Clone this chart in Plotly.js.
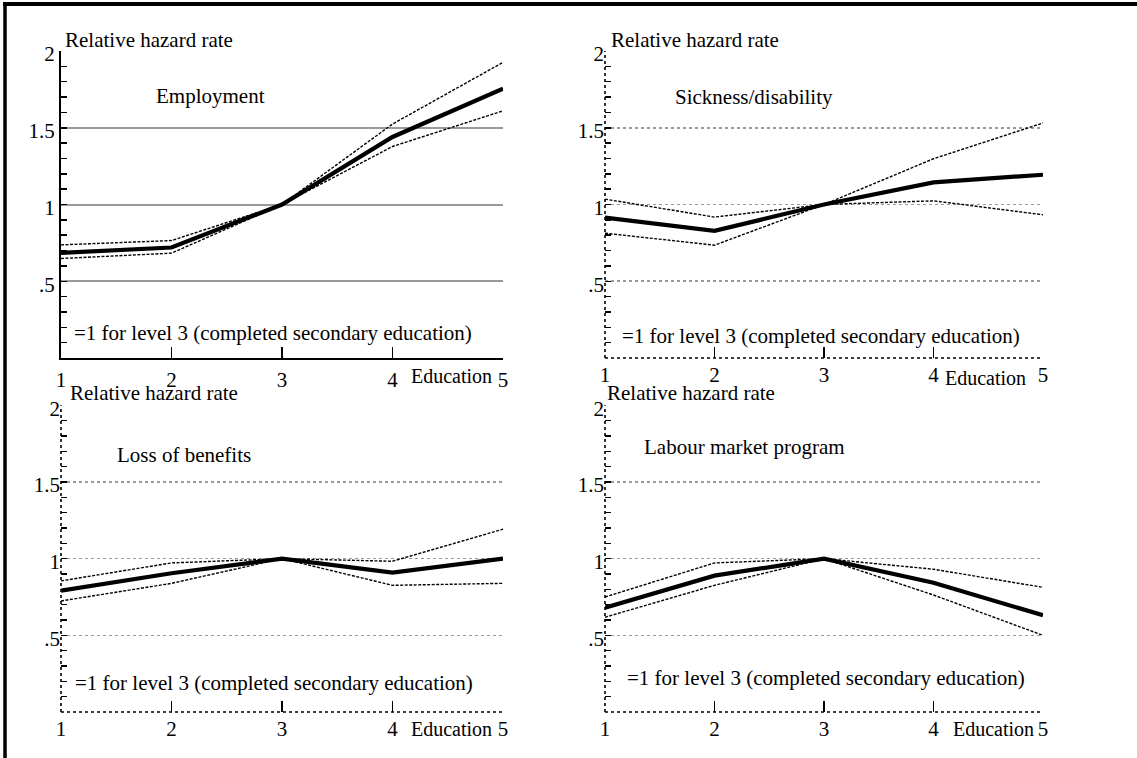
<!DOCTYPE html>
<html>
<head>
<meta charset="utf-8">
<script src="https://cdn.plot.ly/plotly-3.0.1.min.js"></script>
<style>html,body{margin:0;padding:0;background:#fff;}#chart{width:1137px;height:758px;}</style>
</head>
<body>
<div id="chart"></div>
<script>
// ---- data ----
const education = [1, 2, 3, 4, 5];
const educationTickText = ['1', '2', '3', '4', '5'];
const hazardTickVals = [0.5, 1, 1.5, 2];
const hazardTickText = ['.5', '1', '1.5', '2'];

const employmentEst   = [0.685, 0.720, 1.0, 1.440, 1.755];
const employmentUpper = [0.737, 0.765, 1.0, 1.524, 1.926];
const employmentLower = [0.648, 0.683, 1.0, 1.378, 1.610];

const sicknessEst   = [0.915, 0.828, 1.0, 1.144, 1.194];
const sicknessUpper = [1.035, 0.918, 1.0, 1.298, 1.531];
const sicknessLower = [0.813, 0.735, 1.0, 1.024, 0.933];

const lossEst   = [0.791, 0.905, 1.0, 0.909, 1.000];
const lossUpper = [0.855, 0.972, 1.0, 0.983, 1.192];
const lossLower = [0.724, 0.839, 1.0, 0.826, 0.839];

const programEst   = [0.680, 0.889, 1.0, 0.843, 0.631];
const programUpper = [0.750, 0.972, 1.0, 0.931, 0.813];
const programLower = [0.618, 0.826, 1.0, 0.763, 0.500];

const panelTitles = ['Employment', 'Sickness/disability', 'Loss of benefits', 'Labour market program'];
const yLabel = 'Relative hazard rate';
const xLabel = 'Education';
const note = '=1 for level 3 (completed secondary education)';

// ---- layout helpers ----
const W = 1137, H = 758;
const px = v => v / W;
const py = v => 1 - v / H;
const FONT = 'Liberation Serif, Times New Roman, serif';
const fs = 21;

const panels = [
  {est: employmentEst, up: employmentUpper, lo: employmentLower, x: 'x',  y: 'y'},
  {est: sicknessEst,   up: sicknessUpper,   lo: sicknessLower,   x: 'x2', y: 'y2'},
  {est: lossEst,       up: lossUpper,       lo: lossLower,       x: 'x3', y: 'y3'},
  {est: programEst,    up: programUpper,    lo: programLower,    x: 'x4', y: 'y4'}
];

const traces = [];
panels.forEach(p => {
  [p.up, p.lo].forEach(s => traces.push({
    x: education, y: s, xaxis: p.x, yaxis: p.y, type: 'scatter', mode: 'lines',
    line: {color: '#000', width: 1.4, dash: '3px,1.5px'}, hoverinfo: 'skip'
  }));
  traces.push({
    x: education, y: p.est, xaxis: p.x, yaxis: p.y, type: 'scatter', mode: 'lines',
    line: {color: '#000', width: 4.2}, hoverinfo: 'skip'
  });
});

function xAx(dom, anchor, solid) {
  return {
    domain: dom, anchor: anchor, range: [1, 5], tickvals: education, ticktext: educationTickText,
    ticks: 'inside', ticklen: 11, tickwidth: 1.5, tickcolor: '#000', ticklabelstandoff: 2,
    showline: solid, linecolor: '#000', linewidth: 2, showgrid: false, zeroline: false,
    tickfont: {family: FONT, size: fs, color: '#000'}, fixedrange: true
  };
}
function yAx(dom, anchor, solid) {
  return {
    domain: dom, anchor: anchor, range: [0, 2], tickvals: hazardTickVals, ticktext: hazardTickText,
    ticks: 'inside', ticklen: 6, tickwidth: 1.5, tickcolor: '#000', ticklabelshift: 3,
    minor: {dtick: 0.1, tick0: 0, ticks: 'inside', ticklen: 6, tickwidth: 1.5, tickcolor: '#000', showgrid: false},
    showline: solid, linecolor: '#000', linewidth: 2,
    showgrid: true, gridcolor: '#9a9a9a', gridwidth: solid ? 2 : 1.6, griddash: solid ? 'solid' : 'dot',
    zeroline: false, tickfont: {family: FONT, size: fs, color: '#000'}, fixedrange: true
  };
}

const xL = [px(61), px(503)], xR = [px(605), px(1043)];
const yT = [py(358), py(51)], yB = [py(712), py(405.3)];

const layout = {
  width: W, height: H, margin: {l: 0, r: 0, t: 0, b: 0, pad: 0},
  paper_bgcolor: '#fff', plot_bgcolor: '#fff', showlegend: false,
  font: {family: FONT, size: fs, color: '#000'},
  xaxis: xAx(xL, 'y', true),   yaxis: yAx(yT, 'x', true),
  xaxis2: xAx(xR, 'y2', false), yaxis2: yAx(yT, 'x2', false),
  xaxis3: xAx(xL, 'y3', false), yaxis3: yAx(yB, 'x3', false),
  xaxis4: xAx(xR, 'y4', false), yaxis4: yAx(yB, 'x4', false),
  shapes: [
    {type: 'line', xref: 'paper', yref: 'paper', x0: px(5), x1: px(5), y0: py(2), y1: 0, line: {color: '#000', width: 3.5}},
    {type: 'line', xref: 'paper', yref: 'paper', x0: px(3), x1: 1, y0: py(4), y1: py(4), line: {color: '#000', width: 4}}
  ],
  annotations: []
};
// dotted axis lines for panels 2-4
['2', '3', '4'].forEach(k => {
  layout.shapes.push({type: 'line', xref: 'x' + k + ' domain', yref: 'y' + k + ' domain', x0: 0, x1: 1, y0: 0, y1: 0, line: {color: '#000', width: 1.6, dash: 'dot'}});
  layout.shapes.push({type: 'line', xref: 'x' + k + ' domain', yref: 'y' + k + ' domain', x0: 0, x1: 0, y0: 0, y1: 1, line: {color: '#000', width: 1.6, dash: 'dot'}});
});

function ann(text, x, y, anchor, size) {
  layout.annotations.push({text: text, xref: 'paper', yref: 'paper', x: px(x), y: py(y),
    xanchor: anchor || 'left', yanchor: 'middle', showarrow: false,
    font: {family: FONT, size: size || fs, color: '#000'}});
}
// y-axis labels
ann(yLabel, 63, 40); ann(yLabel, 609, 40); ann(yLabel, 68, 393); ann(yLabel, 605, 393);
// panel titles
ann(panelTitles[0], 154, 96); ann(panelTitles[1], 673, 97); ann(panelTitles[2], 115, 455); ann(panelTitles[3], 642, 447);
// notes
ann(note, 72, 333); ann(note, 620, 336); ann(note, 73, 683); ann(note, 625, 678);
// x-axis labels
ann(xLabel, 494, 376, 'right', 20); ann(xLabel, 1028, 378, 'right', 20);
ann(xLabel, 494, 729, 'right', 20); ann(xLabel, 1036, 729, 'right', 20);

Plotly.newPlot('chart', traces, layout, {displayModeBar: false, staticPlot: true});
</script>
</body>
</html>
